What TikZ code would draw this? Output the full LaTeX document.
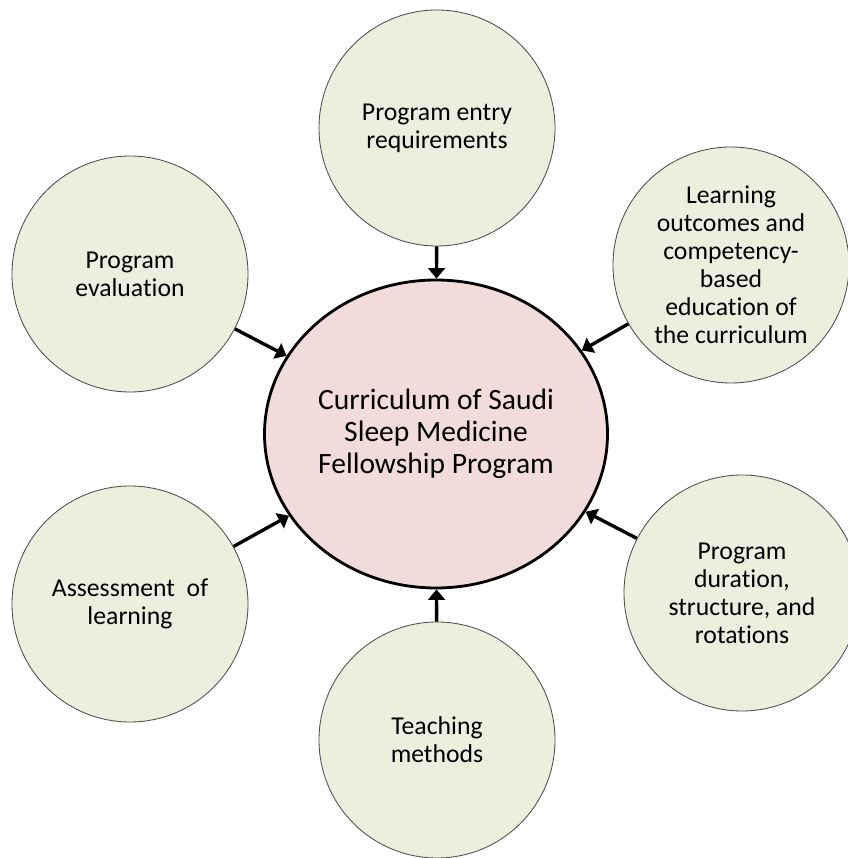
\documentclass[tikz,border=0pt]{standalone}
\usepackage{fontspec}
\setmainfont{Carlito}[Ligatures=NoCommon]
\usetikzlibrary{arrows.meta}
\usetikzlibrary{shapes.geometric}
\definecolor{outerfill}{RGB}{235,240,222}
\definecolor{centerfill}{RGB}{242,220,219}

\begin{document}
\begin{tikzpicture}[
    part/.style={circle, draw=black!70, line width=0.6pt, fill=outerfill, inner sep=0pt, minimum size=5.9cm, align=center, font=\fontsize{18.3pt}{19.9pt}\selectfont},
    core/.style={ellipse, draw=black, line width=2pt, fill=centerfill, inner sep=0pt, minimum width=8.575cm, minimum height=7.7cm, align=center, font=\fontsize{21pt}{22.8pt}\selectfont},
    feed/.style={-{Triangle[length=7.5pt, width=12pt]}, line width=2.4pt}
  ]
    \useasboundingbox (0,0) rectangle (21.175,21.45);

    \node[core] (center) at (10.9,10.6) {Curriculum of Saudi\\Sleep Medicine\\Fellowship Program};
    \node[part] (entry) at (10.925,18.25) {Program entry\\requirements};
    \node[part] (outcomes) at (18.275,14.825) {Learning\\outcomes and\\competency-\\based\\education of\\the curriculum};
    \node[part] (duration) at (18.55,6.625) {Program\\duration,\\structure, and\\rotations};
    \node[part] (teaching) at (10.925,2.95) {Teaching\\methods};
    \node[part] (assessment) at (3.25,6.35) {Assessment~~of\\learning};
    \node[part] (evaluation) at (3.25,14.6) {Program\\evaluation};

    \draw[feed] (entry) -- (center);
    \draw[feed] (outcomes) -- (center);
    \draw[feed] (duration) -- (center);
    \draw[feed] (teaching) -- (center);
    \draw[feed] (assessment) -- (center);
    \draw[feed] (evaluation) -- (center);
  \end{tikzpicture}
\end{document}
